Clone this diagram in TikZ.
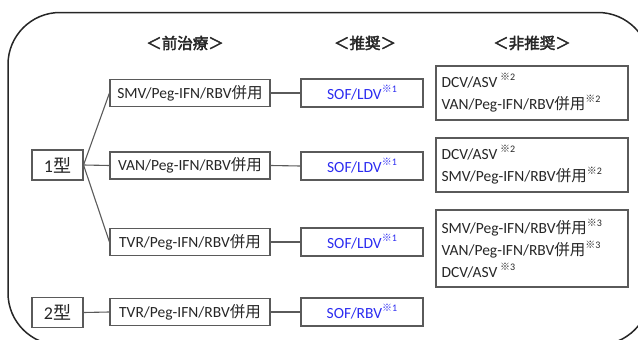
\documentclass[tikz,border=0pt]{standalone}
\usepackage{fontspec}
\setmainfont{Carlito}
\newfontfamily\cjk{Noto Sans CJK JP}[AutoFakeBold=2.5]
\newcommand\jp[1]{{\cjk #1}}
\newcommand\chu[1]{\raisebox{0.45em}{\fontsize{10}{10}\selectfont{\cjk ※}#1}}
\definecolor{txt}{HTML}{262626}
\definecolor{edge}{HTML}{5A5A5A}
\definecolor{recblue}{HTML}{2B2BF0}
\begin{document}
\begin{tikzpicture}[x=1pt,y=-1pt,
  every node/.style={text=txt},
  box/.style={draw=edge,line width=1.1pt,rectangle,inner sep=0pt,align=center,font=\fontsize{15.5}{18}\selectfont},
  typebox/.style={box,minimum width=51pt,minimum height=30pt,font=\fontsize{18}{20}\selectfont},
  prior/.style={box,minimum width=160pt,minimum height=27pt},
  rec/.style={box,minimum width=122pt,minimum height=28pt,text=recblue},
  nonrec/.style={box,minimum width=192pt,text width=181pt,inner xsep=5.5pt,align=left,font=\fontsize{15.5}{22}\selectfont},
  head/.style={font=\fontsize{15.5}{18}\selectfont\cjk\bfseries},
  link/.style={draw=edge,line width=1.1pt}]
\useasboundingbox (0,0) rectangle (638,340);
\begin{scope}
\clip (0,0) rectangle (638,340);
\draw[line width=1.5pt,draw=black!85,rounded corners=52pt] (8,12.5) rectangle (650,345);
\end{scope}
\node[head] (h1) at (185,43) {＜前治療＞};
\node[head] (h2) at (365,43) {＜推奨＞};
\node[head] (h3) at (532,43) {＜非推奨＞};
\node[typebox] (t1) at (57.5,165) {1\jp{型}};
\node[typebox] (t2) at (57.5,312.5) {2\jp{型}};
\node[prior] (p1) at (190,93) {SMV/Peg-IFN/RBV\jp{併用}};
\node[prior] (p2) at (190,165.5) {VAN/Peg-IFN/RBV\jp{併用}};
\node[prior] (p3) at (190,242) {TVR/Peg-IFN/RBV\jp{併用}};
\node[prior] (p4) at (190,312) {TVR/Peg-IFN/RBV\jp{併用}};
\node[rec] (r1) at (362,93) {SOF/LDV\chu{1}};
\node[rec] (r2) at (362,166) {SOF/LDV\chu{1}};
\node[rec] (r3) at (362,242) {SOF/LDV\chu{1}};
\node[rec] (r4) at (362,312) {SOF/RBV\chu{1}};
\node[nonrec,minimum height=54pt] (n1) at (532,93) {DCV/ASV\,\chu{2}\\VAN/Peg-IFN/RBV\jp{併用}\chu{2}};
\node[nonrec,minimum height=54pt] (n2) at (532,165) {DCV/ASV\,\chu{2}\\SMV/Peg-IFN/RBV\jp{併用}\chu{2}};
\node[nonrec,minimum height=77pt] (n3) at (532,248.5) {SMV/Peg-IFN/RBV\jp{併用}\chu{3}\\VAN/Peg-IFN/RBV\jp{併用}\chu{3}\\DCV/ASV\,\chu{3}};
\draw[link] (t1.east) -- (p1.west);
\draw[link] (t1.east) -- (p2.west);
\draw[link] (t1.east) -- (p3.west);
\draw[link] (t2.east) -- (p4.west);
\draw[link] (p1.east) -- (r1.west);
\draw[link] (p2.east) -- (r2.west);
\draw[link] (p3.east) -- (r3.west);
\draw[link] (p4.east) -- (r4.west);
\end{tikzpicture}
\end{document}
